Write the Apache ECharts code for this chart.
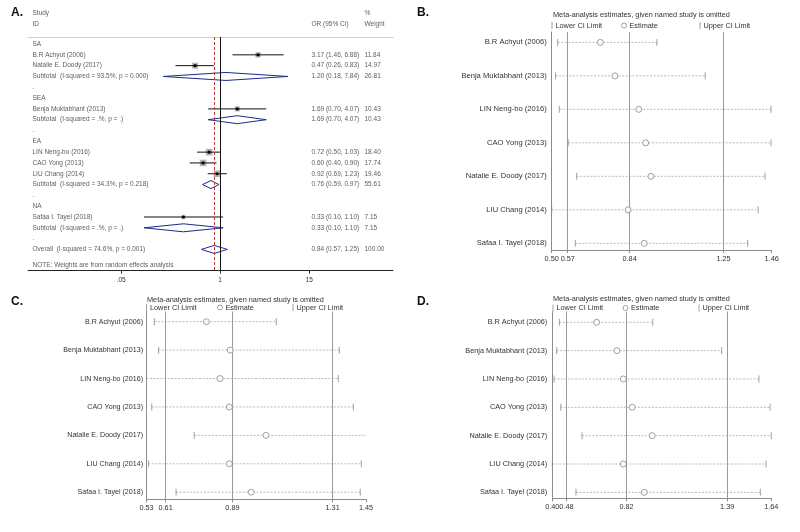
<!DOCTYPE html>
<html><head><meta charset="utf-8">
<script src="https://cdn.jsdelivr.net/npm/echarts@6/dist/echarts.min.js"></script>
<style>html,body{margin:0;padding:0;background:#fff}#c{width:800px;height:532px}</style>
</head><body><div id="c"></div>
<script>
// ================= Panel A: forest plot data =================
const groupNames = ['SA', 'SEA', 'EA', 'NA'];
const studyNames = ['B.R Achyut (2006)', 'Natalie E. Doody (2017)', 'Benja Muktabhant (2013)',
  'LIN Neng-bo (2016)', 'CAO Yong (2013)', 'LIU Chang (2014)', 'Safaa I. Tayel (2018)'];
const studyGroup = [0, 0, 1, 2, 2, 2, 3];
const studyOR = [3.17, 0.47, 1.69, 0.72, 0.60, 0.92, 0.33];
const studyLo = [1.46, 0.26, 0.70, 0.50, 0.40, 0.69, 0.10];
const studyHi = [6.88, 0.83, 4.07, 1.03, 0.90, 1.23, 1.10];
const studyW  = [11.84, 14.97, 10.43, 18.40, 17.74, 19.46, 7.15];
const subLabels = ['Subtotal  (I-squared = 93.5%, p = 0.000)', 'Subtotal  (I-squared = .%, p = .)',
  'Subtotal  (I-squared = 34.3%, p = 0.218)', 'Subtotal  (I-squared = .%, p = .)'];
const subOR = [1.20, 1.69, 0.76, 0.33];
const subLo = [0.18, 0.70, 0.59, 0.10];
const subHi = [7.84, 4.07, 0.97, 1.10];
const subW  = [26.81, 10.43, 55.61, 7.15];
const overallLabel = 'Overall  (I-squared = 74.6%, p = 0.001)';
const overallOR = 0.84, overallLo = 0.57, overallHi = 1.25, overallW = 100.00;
const noteText = 'NOTE: Weights are from random effects analysis';
const tickValuesA = [0.05, 1, 15];
const tickLabelsA = ['.05', '1', '15'];
const nullLineA = 1;

// ================= Panels B, C, D: leave-one-out data =================
const looNames = ['B.R Achyut (2006)', 'Benja Muktabhant (2013)', 'LIN Neng-bo (2016)', 'CAO Yong (2013)',
  'Natalie E. Doody (2017)', 'LIU Chang (2014)', 'Safaa I. Tayel (2018)'];
const estB = [0.712, 0.776, 0.880, 0.910, 0.933, 0.834, 0.904];
const loB  = [0.526, 0.517, 0.533, 0.572, 0.609, 0.500, 0.603];
const hiB  = [0.959, 1.170, 1.457, 1.457, 1.431, 1.401, 1.355];
const ticksB = [0.50, 0.57, 0.84, 1.25, 1.46];
const refsB  = [0.57, 0.84, 1.25];

const estC = [0.781, 0.881, 0.838, 0.877, 1.031, 0.877, 0.969];
const loC  = [0.563, 0.581, 0.530, 0.552, 0.730, 0.538, 0.654];
const hiC  = [1.074, 1.338, 1.334, 1.397, 1.451, 1.430, 1.426];
const ticksC = [0.53, 0.61, 0.89, 1.31, 1.45];
const refsC  = [0.61, 0.89, 1.31];

const estD = [0.651, 0.766, 0.802, 0.853, 0.966, 0.802, 0.921];
const loD  = [0.440, 0.425, 0.410, 0.448, 0.568, 0.400, 0.534];
const hiD  = [0.969, 1.359, 1.570, 1.633, 1.640, 1.610, 1.578];
const ticksD = [0.40, 0.48, 0.82, 1.39, 1.64];
const refsD  = [0.48, 0.82, 1.39];

const metaTitle = 'Meta-analysis estimates, given named study is omitted';
const panelTags = ['A.', 'B.', 'C.', 'D.'];

// ================= build =================
const FONT = '"Liberation Sans", Arial, Helvetica, sans-serif';
const TXT = '#333';
const fmt2 = v => v.toFixed(2);
const ciText = (o, l, h) => fmt2(o) + ' (' + fmt2(l) + ', ' + fmt2(h) + ')';

// text columns in panel A (pixel offsets inside the panel's text axis)
const COL_NAME = 4, COL_OR = 283, COL_W = 336;
const textA = [];
const studyRowsA = [];
const diamondRowsA = [];
textA.push([COL_NAME, -2.87, 'Study'], [COL_NAME, -1.85, 'ID'], [COL_W, -2.87, '%'],
           [COL_W, -1.85, 'Weight'], [COL_OR, -1.85, 'OR (95% CI)']);
let r = 0;
groupNames.forEach((g, gi) => {
  textA.push([COL_NAME, r, g]); r++;
  studyGroup.forEach((sg, si) => {
    if (sg !== gi) return;
    textA.push([COL_NAME, r, studyNames[si]], [COL_OR, r, ciText(studyOR[si], studyLo[si], studyHi[si])],
               [COL_W, r, fmt2(studyW[si])]);
    studyRowsA.push([r, studyOR[si], studyLo[si], studyHi[si], studyW[si]]);
    r++;
  });
  textA.push([COL_NAME, r, subLabels[gi]], [COL_OR, r, ciText(subOR[gi], subLo[gi], subHi[gi])],
             [COL_W, r, fmt2(subW[gi])]);
  diamondRowsA.push([r, subOR[gi], subLo[gi], subHi[gi]]);
  r++;
  textA.push([COL_NAME, r, '.']); r++;
});
textA.push([COL_NAME, r, overallLabel], [COL_OR, r, ciText(overallOR, overallLo, overallHi)],
           [COL_W, r, fmt2(overallW)]);
diamondRowsA.push([r, overallOR, overallLo, overallHi]);
textA.push([COL_NAME, r + 1.5, noteText]);

const grids = [
  { left: 28, top: 37, width: 365, height: 233.5 },
  { left: 551.7, top: 32, width: 220, height: 218 },
  { left: 146.5, top: 311.5, width: 219.5, height: 187.8 },
  { left: 552.3, top: 311.5, width: 219, height: 186.8 }
];

const xAxes = [
  { gridIndex: 0, type: 'log', logBase: 10, min: 0.00298, max: 189, position: 'bottom',
    axisLine: { show: true, onZero: false, lineStyle: { color: '#222', width: 1 } },
    axisTick: { show: true, customValues: tickValuesA, length: 3, lineStyle: { color: '#222' } },
    axisLabel: { show: true, customValues: tickValuesA, margin: 6, fontSize: 6.5, color: TXT, fontFamily: FONT,
      formatter: v => { const i = tickValuesA.findIndex(t => Math.abs(t - v) / t < 1e-6); return i >= 0 ? tickLabelsA[i] : ''; } },
    splitLine: { show: false }, minorTick: { show: false } },
  { gridIndex: 0, type: 'value', min: 0, max: 365, position: 'top',
    axisLine: { show: true, onZero: false, lineStyle: { color: '#cfcfcf', width: 1 } },
    axisTick: { show: false }, axisLabel: { show: false }, splitLine: { show: false } }
];
const yAxes = [
  { gridIndex: 0, type: 'value', inverse: true, min: -0.65, max: 20.95, show: false, splitLine: { show: false } }
];

const series = [
  { type: 'custom', name: 'studiesA', xAxisIndex: 0, yAxisIndex: 0, silent: true,
    encode: { x: [1, 2, 3], y: 0 }, data: studyRowsA, z: 3,
    renderItem: (params, api) => {
      const row = api.value(0), est = api.value(1), lo = api.value(2), hi = api.value(3), w = api.value(4);
      const pL = api.coord([lo, row]), pH = api.coord([hi, row]), pE = api.coord([est, row]);
      const s = 1.55 * Math.sqrt(w);
      return { type: 'group', children: [
        { type: 'rect', shape: { x: pE[0] - s / 2, y: pE[1] - s / 2, width: s, height: s }, style: { fill: '#b4b4b4' } },
        { type: 'line', shape: { x1: pL[0], y1: pL[1], x2: pH[0], y2: pH[1] }, style: { stroke: '#111', lineWidth: 1 } },
        { type: 'circle', shape: { cx: pE[0], cy: pE[1], r: 1.6 }, style: { fill: '#000' } }
      ] };
    } },
  { type: 'custom', name: 'diamondsA', xAxisIndex: 0, yAxisIndex: 0, silent: true,
    encode: { x: [1, 2, 3], y: 0 }, data: diamondRowsA, z: 3,
    renderItem: (params, api) => {
      const row = api.value(0), est = api.value(1), lo = api.value(2), hi = api.value(3);
      const pL = api.coord([lo, row]), pH = api.coord([hi, row]), pE = api.coord([est, row]);
      return { type: 'polygon', shape: { points: [pL, [pE[0], pE[1] - 4], pH, [pE[0], pE[1] + 4]] },
        style: { fill: 'none', stroke: '#1f2b8a', lineWidth: 1 } };
    } },
  { type: 'scatter', name: 'refA', xAxisIndex: 0, yAxisIndex: 0, silent: true, symbolSize: 0,
    data: [[nullLineA, 0]], z: 2,
    markLine: { silent: true, symbol: ['none', 'none'], label: { show: false }, animation: false,
      data: [
        { xAxis: nullLineA, lineStyle: { color: '#111', width: 1, type: 'solid' } },
        { xAxis: overallOR, lineStyle: { color: '#c0392b', width: 1, type: [3, 2] } }
      ] } },
  { type: 'scatter', name: 'textA', xAxisIndex: 1, yAxisIndex: 0, silent: true, clip: false, z: 6,
    symbol: 'circle', symbolSize: 1, itemStyle: { color: 'rgba(0,0,0,0)' },
    data: textA.map(t => ({ value: [t[0], t[1]], name: t[2] })),
    label: { show: true, position: 'right', distance: 0, formatter: '{b}', fontSize: 6.5, color: TXT, fontFamily: FONT } }
];

const legends = [];
const titles = [];
function addLoo(gi, est, lo, hi, ticks, refs, legendPos, titlePos, labelFont, labelMargin) {
  const xi = xAxes.length, yi = yAxes.length;
  xAxes.push({ gridIndex: gi, type: 'value', min: ticks[0], max: ticks[ticks.length - 1], position: 'bottom',
    axisLine: { show: true, onZero: false, lineStyle: { color: '#8c8c8c', width: 1 } },
    axisTick: { show: true, customValues: ticks, length: 3, lineStyle: { color: '#8c8c8c' } },
    axisLabel: { show: true, customValues: ticks, margin: 5, fontSize: 7.3, color: TXT, fontFamily: FONT, formatter: v => v.toFixed(2) },
    splitLine: { show: false } });
  yAxes.push({ gridIndex: gi, type: 'value', inverse: true, min: grids[gi].ymin, max: grids[gi].ymax,
    axisLine: { show: true, onZero: false, lineStyle: { color: '#8c8c8c', width: 1 } },
    axisTick: { show: false },
    axisLabel: { show: true, customValues: looNames.map((n, i) => i), margin: labelMargin, fontSize: labelFont, color: TXT, fontFamily: FONT,
      formatter: v => looNames[Math.round(v)] || '' },
    splitLine: { show: false } });
  const rows = looNames.map((n, i) => i);
  series.push(
    { type: 'custom', name: 'ci' + gi, xAxisIndex: xi, yAxisIndex: yi, silent: true, z: 3,
      encode: { x: [0, 1], y: 2 }, data: rows.map(i => [lo[i], hi[i], i]),
      renderItem: (params, api) => {
        const a = api.coord([api.value(0), api.value(2)]), b = api.coord([api.value(1), api.value(2)]);
        return { type: 'line', shape: { x1: a[0], y1: a[1], x2: b[0], y2: b[1] },
          style: { stroke: '#a8a8a8', lineWidth: 0.8, lineDash: [2, 1.5] } };
      } },
    { type: 'scatter', name: 'Lower CI Limit', xAxisIndex: xi, yAxisIndex: yi, silent: true, z: 4,
      symbol: 'rect', symbolSize: [1, 7], itemStyle: { color: '#8a8a8a' }, data: rows.map(i => [lo[i], i]) },
    { type: 'scatter', name: 'Upper CI Limit', xAxisIndex: xi, yAxisIndex: yi, silent: true, z: 4,
      symbol: 'rect', symbolSize: [1, 7], itemStyle: { color: '#8a8a8a' }, data: rows.map(i => [hi[i], i]) },
    { type: 'scatter', name: 'Estimate', xAxisIndex: xi, yAxisIndex: yi, silent: true, z: 5,
      symbol: 'circle', symbolSize: 6, itemStyle: { color: '#fff', borderColor: '#8a8a8a', borderWidth: 1 },
      data: rows.map(i => [est[i], i]),
      markLine: { silent: true, symbol: ['none', 'none'], label: { show: false }, animation: false,
        lineStyle: { color: '#9a9a9a', width: 1, type: 'solid' }, data: refs.map(v => ({ xAxis: v })) } }
  );
  const names = ['Lower CI Limit', 'Estimate', 'Upper CI Limit'];
  names.forEach((nm, k) => {
    const isEst = nm === 'Estimate';
    legends.push({ data: [nm], left: legendPos[k], top: legendPos[3], padding: 0, selectedMode: false,
      icon: isEst ? 'circle' : 'rect', itemWidth: isEst ? 5 : 1, itemHeight: isEst ? 5 : 7,
      itemStyle: isEst ? { color: '#fff', borderColor: '#8a8a8a', borderWidth: 1 } : { color: '#8a8a8a' },
      textStyle: { fontSize: 7.3, color: TXT, fontFamily: FONT, padding: [0, 0, 0, -2] } });
  });
  titles.push({ text: metaTitle, left: titlePos[0], top: titlePos[1], padding: 0,
    textStyle: { fontSize: 7.3, fontWeight: 'normal', color: TXT, fontFamily: FONT } });
}
grids[1].ymin = -0.31; grids[1].ymax = 6.2;
grids[2].ymin = -0.36; grids[2].ymax = 6.25;
grids[3].ymin = -0.38; grids[3].ymax = 6.21;
addLoo(1, estB, loB, hiB, ticksB, refsB, [551.5, 621, 699.5, 22], [553, 11], 7.6, 5);
addLoo(2, estC, loC, hiC, ticksC, refsC, [146, 217, 292.5, 304], [147, 296], 7.1, 3.5);
addLoo(3, estD, loD, hiD, ticksD, refsD, [552.5, 622.5, 698.5, 304.5], [553, 295], 7.3, 5);

const tagPos = [[11, 7], [417, 7], [11, 296], [417, 296]];
panelTags.forEach((t, i) => titles.push({ text: t, left: tagPos[i][0], top: tagPos[i][1], padding: 0,
  textStyle: { fontSize: 12, fontWeight: 'bold', color: '#111', fontFamily: FONT } }));

const chart = echarts.init(document.getElementById('c'), null, { renderer: 'canvas' });
chart.setOption({
  animation: false,
  backgroundColor: '#fff',
  title: titles,
  legend: legends,
  grid: grids.map(g => ({ left: g.left, top: g.top, width: g.width, height: g.height, containLabel: false })),
  xAxis: xAxes,
  yAxis: yAxes,
  series: series
});
</script>
</body></html>
